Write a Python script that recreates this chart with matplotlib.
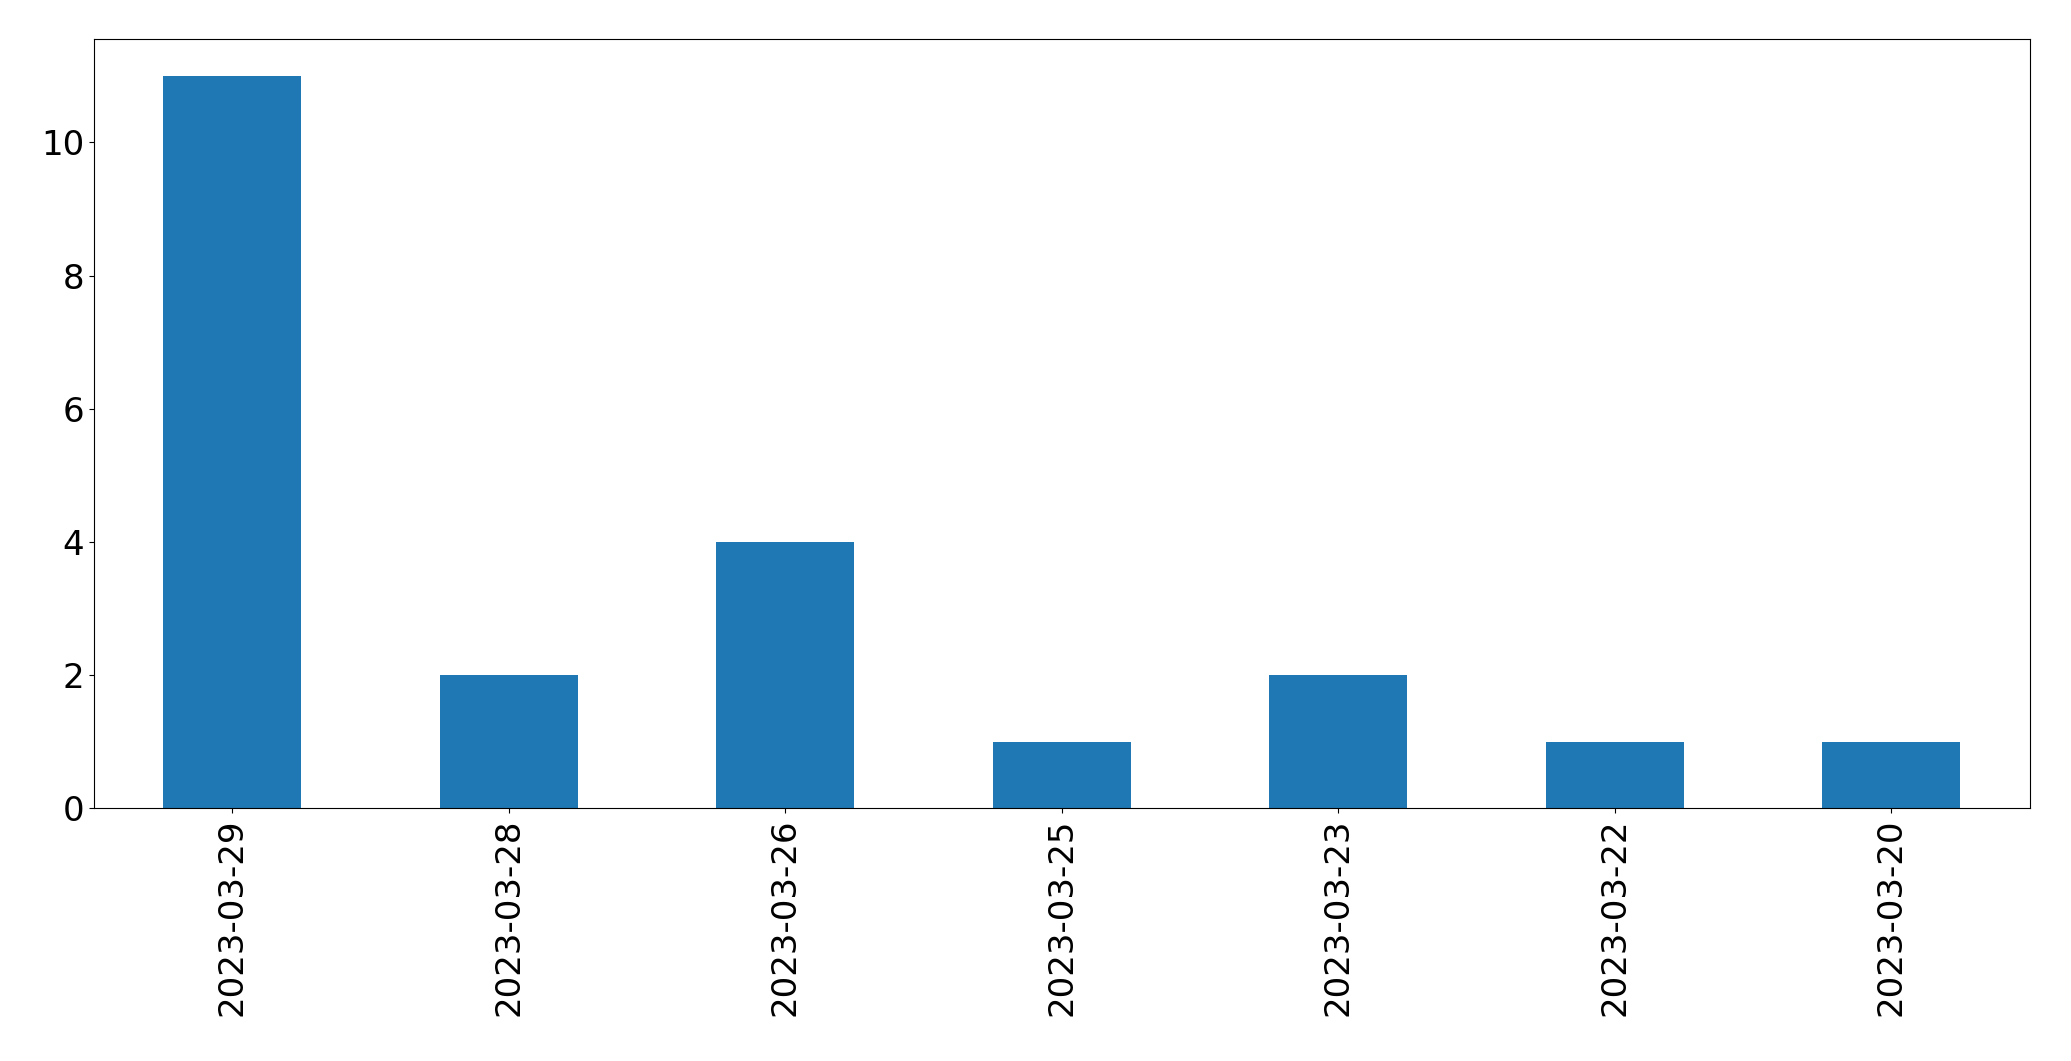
import matplotlib
matplotlib.use("Agg")
import matplotlib.pyplot as plt

# Anzahl pro Tag
dates = ["2023-03-29", "2023-03-28", "2023-03-26", "2023-03-25",
         "2023-03-23", "2023-03-22", "2023-03-20"]
counts = [11, 2, 4, 1, 2, 1, 1]

fig, ax = plt.subplots(figsize=(20.71, 10.61), dpi=100)
fig.subplots_adjust(left=0.0454, right=0.980, top=0.963, bottom=0.238)

pos = list(range(len(dates)))
ax.bar(pos, counts, width=0.5, color="#1f77b4", linewidth=0)
ax.set_xlim(-0.5, len(dates) - 0.5)
ax.set_ylim(0, max(counts) * 1.05)
ax.set_xticks(pos)
ax.set_xticklabels(dates, rotation=90)
ax.tick_params(labelsize=24.5)

fig.savefig("out.png", dpi=100)
